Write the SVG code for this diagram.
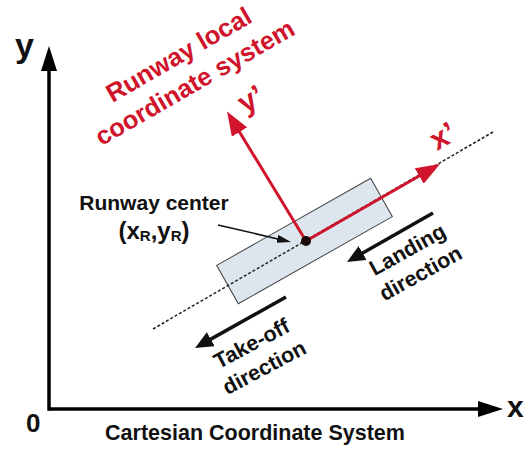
<svg xmlns="http://www.w3.org/2000/svg" width="525" height="452" viewBox="0 0 525 452">
<style>
.t{font-family:"Liberation Sans",Arial,sans-serif;font-weight:bold;fill:#111}
.r{font-family:"Liberation Sans",Arial,sans-serif;font-weight:bold;fill:#d0142c}
.axis{stroke:#000;stroke-width:3.5;fill:none}
.red{stroke:#d0142c;stroke-width:3;fill:none}
.blk{stroke:#111;stroke-width:3.5;fill:none}
.ptr{stroke:#111;stroke-width:1.5;fill:none}
</style>
<defs>
<marker id="ah" viewBox="0 0 25 16" markerWidth="25" markerHeight="16" refX="13" refY="8" orient="auto" markerUnits="userSpaceOnUse"><path d="M0,0 L25,8 L0,16 z" fill="#000"/></marker>
<marker id="rh" viewBox="0 0 24 18" markerWidth="24" markerHeight="18" refX="12" refY="9" orient="auto" markerUnits="userSpaceOnUse"><path d="M0,0 L24,9 L0,18 z" fill="#d0142c"/></marker>
<marker id="bh" viewBox="0 0 18 16" markerWidth="18" markerHeight="16" refX="9" refY="8" orient="auto" markerUnits="userSpaceOnUse"><path d="M0,0 L18,8 L0,16 z" fill="#111"/></marker>
<marker id="ph" viewBox="0 0 14 8" markerWidth="14" markerHeight="8" refX="7" refY="4" orient="auto" markerUnits="userSpaceOnUse"><path d="M0,0 L14,4 L0,8 z" fill="#111"/></marker>
</defs>
<rect width="525" height="452" fill="#fff"/>

<g id="runway">
<rect x="-88.5" y="-22" width="177" height="44" transform="translate(304.5,241) rotate(-29.5)" fill="#dde5ee" stroke="#444" stroke-width="1"/>
</g>

<g id="connectors">
<line class="axis" x1="49" y1="409" x2="491" y2="409" marker-end="url(#ah)"/>
<line class="axis" x1="49" y1="410.75" x2="49" y2="58" marker-end="url(#ah)"/>
<line x1="153" y1="329" x2="493" y2="132" stroke="#222" stroke-width="1.5" stroke-dasharray="3,2"/>
<line class="red" x1="306" y1="241" x2="429.6" y2="170" marker-end="url(#rh)"/>
<line class="red" x1="306" y1="241" x2="233.3" y2="121.8" marker-end="url(#rh)"/>
<line class="blk" x1="433" y1="213" x2="354.8" y2="257.5" marker-end="url(#bh)"/>
<line class="blk" x1="286" y1="297" x2="202.9" y2="343.6" marker-end="url(#bh)"/>
<line class="ptr" x1="218" y1="225" x2="284.2" y2="240.4" marker-end="url(#ph)"/>
</g>

<g id="center">
<circle cx="306" cy="241" r="5" fill="#1a0a0a"/>
</g>

<g id="axis-labels">
<text class="t" x="15" y="57" font-size="34">y</text>
<text class="t" x="507" y="417" font-size="30">x</text>
<text class="t" x="26" y="432" font-size="26">0</text>
<text class="t" x="255" y="440" font-size="21.5" text-anchor="middle">Cartesian Coordinate System</text>
</g>

<g id="local-labels">
<g transform="translate(199,90) rotate(-30)">
<text class="r" x="0" y="-32" font-size="25.5" text-anchor="middle">Runway local</text>
<text class="r" x="0" y="0" font-size="25.5" text-anchor="middle">coordinate system</text>
</g>
<text class="r" font-size="30" transform="translate(245,114) rotate(-30)">y’</text>
<text class="r" font-size="30" transform="translate(437,151) rotate(-30)">x’</text>
</g>

<g id="center-label">
<text class="t" x="154" y="210" font-size="21" text-anchor="middle">Runway center</text>
<text class="t" x="154" y="238.5" font-size="24" text-anchor="middle">(x<tspan font-size="15" dy="2.5">R</tspan><tspan dy="-2.5">,y</tspan><tspan font-size="15" dy="2.5">R</tspan><tspan dy="-2.5">)</tspan></text>
</g>

<g id="landing">
<g transform="translate(411,256) rotate(-29)">
<text class="t" x="0" y="0" font-size="21.5" text-anchor="middle">Landing</text>
<text class="t" x="0" y="27" font-size="21.5" text-anchor="middle">direction</text>
</g>
</g>

<g id="takeoff">
<g transform="translate(255,350) rotate(-28)">
<text class="t" x="0" y="0" font-size="21.5" text-anchor="middle">Take-off</text>
<text class="t" x="0" y="27" font-size="21.5" text-anchor="middle">direction</text>
</g>
</g>
</svg>
